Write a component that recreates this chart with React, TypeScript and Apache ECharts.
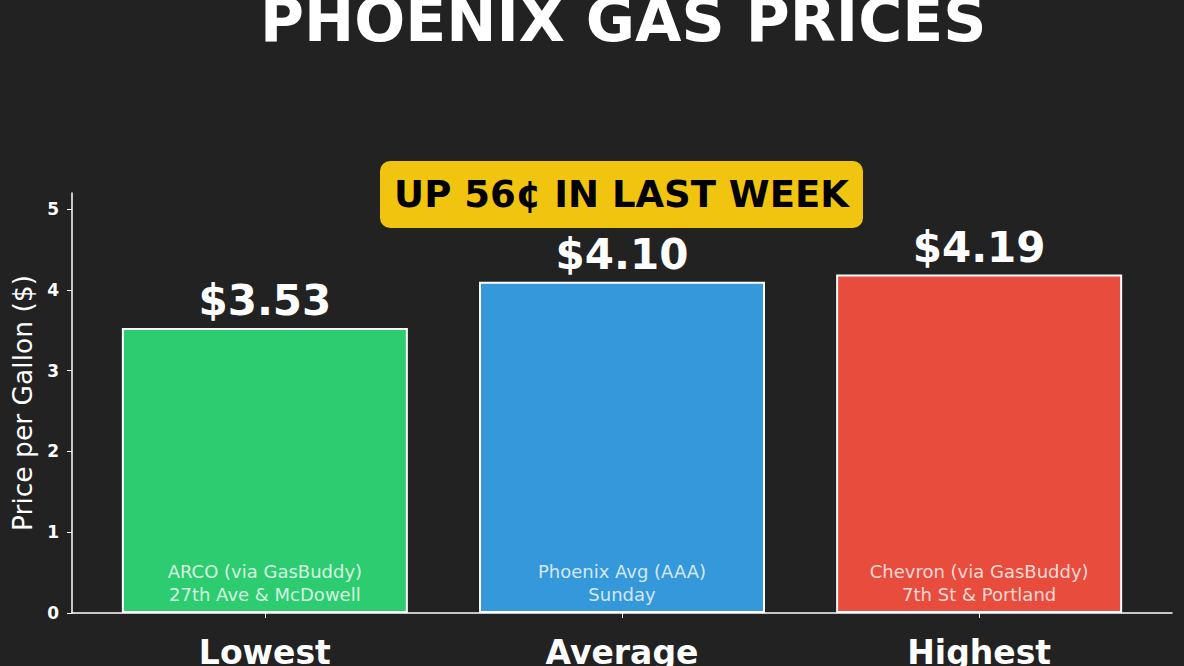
import React, { useEffect, useRef } from "react";
import * as echarts from "echarts";

const titleText = "PHOENIX GAS PRICES";
const badgeText = "UP 56¢ IN LAST WEEK";
const yAxisName = "Price per Gallon ($)";
const categories = ["Lowest", "Average", "Highest"];
const positions = [0, 1, 2];
const prices = [3.53, 4.1, 4.19];
const barColors = ["#2ecc71", "#3498db", "#e74c3c"];
const sources = ["ARCO (via GasBuddy)", "Phoenix Avg (AAA)", "Chevron (via GasBuddy)"];
const locations = ["27th Ave & McDowell", "Sunday", "7th St & Portland"];
const yTicks = [0, 1, 2, 3, 4, 5];

const FONT = "DejaVu Sans";

export default function App() {
  const ref = useRef<HTMLDivElement>(null);
  useEffect(() => {
    document.body.style.margin = "0";
    const chart = echarts.init(ref.current!, null, { renderer: "svg" });
    const barData = prices.map((v, i) => ({
      value: [positions[i], v],
      itemStyle: { color: barColors[i] },
    }));
    chart.setOption({
      animation: false,
      backgroundColor: "#222222",
      title: {
        text: titleText,
        left: 255,
        top: -15,
        textStyle: { fontSize: 60, fontWeight: "bold", color: "#ffffff", fontFamily: FONT },
      },
      grid: { left: 72, right: 12, top: 193, bottom: 53, containLabel: false, outerBoundsMode: "none" },
      xAxis: {
        type: "value",
        min: -0.54,
        max: 2.54,
        splitLine: { show: false },
        axisLine: { show: true, onZero: false, lineStyle: { color: "#ffffff", width: 1.5 } },
        axisTick: { show: true, customValues: positions, length: 5, lineStyle: { color: "#ffffff" } },
        axisLabel: {
          customValues: positions,
          formatter: (v: number) => categories[Math.round(v)],
          color: "#ffffff",
          fontSize: 33,
          fontWeight: "bold",
          fontFamily: FONT,
          margin: 23,
        },
      },
      yAxis: {
        type: "value",
        min: 0,
        max: 5.2,
        interval: 1,
        name: yAxisName,
        nameLocation: "middle",
        nameGap: 34,
        nameTextStyle: { color: "#ffffff", fontSize: 26.5, fontFamily: FONT },
        splitLine: { show: false },
        axisLine: { show: true, onZero: false, lineStyle: { color: "#ffffff", width: 1.5 } },
        axisTick: { show: true, customValues: yTicks, length: 5, lineStyle: { color: "#ffffff" } },
        axisLabel: {
          customValues: yTicks,
          color: "#ffffff",
          fontSize: 17,
          fontWeight: "bold",
          fontFamily: FONT,
          margin: 13,
        },
      },
      graphic: [
        {
          type: "group",
          children: [
            {
              type: "rect",
              shape: { x: 380, y: 161, width: 483, height: 67, r: 10 },
              style: { fill: "#f1c40f" },
            },
            {
              type: "text",
              x: 621.5,
              y: 194.5,
              style: {
                text: badgeText,
                fill: "#000000",
                fontSize: 37,
                fontWeight: "bold",
                fontFamily: FONT,
                align: "center",
                verticalAlign: "middle",
              },
            },
          ],
        },
      ],
      series: [
        {
          type: "bar",
          data: barData,
          barWidth: 286,
          barGap: "-100%",
          itemStyle: { borderColor: "#ffffff", borderWidth: 2 },
          label: {
            show: true,
            position: "top",
            distance: 6,
            formatter: (p: any) => "$" + prices[p.dataIndex].toFixed(2),
            color: "#ffffff",
            fontSize: 42,
            fontWeight: "bold",
            fontFamily: FONT,
          },
        },
        {
          type: "bar",
          data: barData.map((d) => ({ value: d.value, itemStyle: { color: "rgba(0,0,0,0)" } })),
          barWidth: 286,
          barGap: "-100%",
          z: 3,
          label: {
            show: true,
            position: "insideBottom",
            distance: 7,
            formatter: (p: any) => sources[p.dataIndex] + "\n" + locations[p.dataIndex],
            color: "rgba(255,255,255,0.8)",
            fontSize: 18,
            lineHeight: 23,
            fontFamily: FONT,
            align: "center",
          },
        },
      ],
    });
    return () => chart.dispose();
  }, []);
  return <div ref={ref} style={{ position: "absolute", left: 0, top: 0, width: 1184, height: 666 }} />;
}
